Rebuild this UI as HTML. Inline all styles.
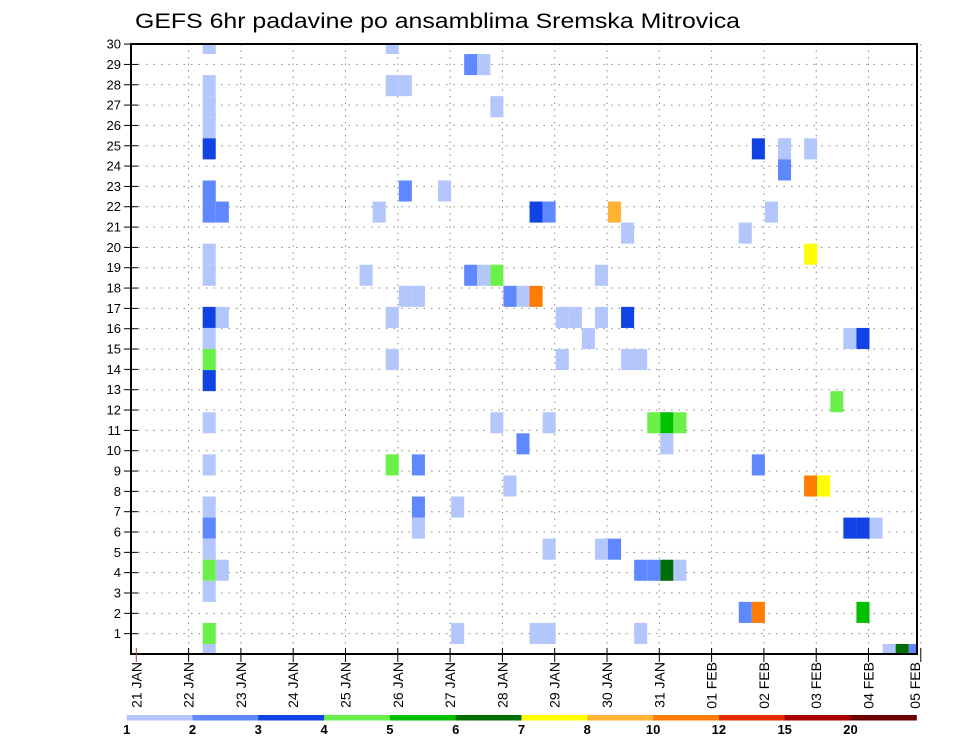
<!DOCTYPE html>
<html><head><meta charset="utf-8"><style>
html,body{margin:0;padding:0;background:#fff;}
svg{display:block;font-family:"Liberation Sans",sans-serif;}
</style></head><body>
<svg id="chart" width="960" height="742" viewBox="0 0 960 742">
<text x="135" y="28" font-size="21" textLength="605" lengthAdjust="spacingAndGlyphs">GEFS 6hr padavine po ansamblima Sremska Mitrovica</text>
<defs><clipPath id="plotclip"><rect x="131" y="44" width="786" height="610"/></clipPath></defs>
<g id="grid"></g>
<g id="cells" clip-path="url(#plotclip)"></g>
<rect x="131" y="44" width="786" height="610" fill="none" stroke="#000" stroke-width="2"/>
<g id="axes"></g>
<g id="legend"></g>
</svg>
<script>
const dayLabels = ["21 JAN","22 JAN","23 JAN","24 JAN","25 JAN","26 JAN","27 JAN","28 JAN","29 JAN","30 JAN","31 JAN","01 FEB","02 FEB","03 FEB","04 FEB","05 FEB"];
const yTicks = [1,2,3,4,5,6,7,8,9,10,11,12,13,14,15,16,17,18,19,20,21,22,23,24,25,26,27,28,29,30];
const levelLabels = ["1","2","3","4","5","6","7","8","10","12","15","20"];
const levelColors = ["#b4c7fc","#5f88fe","#1142e3","#6bf04b","#00c000","#006e00","#ffff00","#ffb233","#ff7c00","#e62a00","#a80000","#6c0000"];
// cells: 6-hour step index (from 21 JAN 00Z), ensemble row index, precipitation value (mm)
const cellStep = [5,19, 25,26, 5,19,20,49, 5,27, 5, 5,47,49,51, 49, 5,20,23, 5,6,18,30,31,36,48, 37,46, 5,51, 5,17,25,26,27,35, 20,21,28,29,30, 5,6,19,32,33,35,37, 5,34,54,55, 5,19,32,37,38, 5, 53, 5,27,31,39,40,41, 29,40, 5,19,21,47, 28,51,52, 5,21,24, 5,21,54,55,56, 5,31,35,36, 5,6,38,39,40,41, 5, 46,47,55, 5,24,30,31,38, 5,57,58,59];
const cellRow  = [29,29, 28,28, 27,27,27,24, 26,26, 25, 24,24,24,24, 23, 22,22,22, 21,21,21,21,21,21,21, 20,20, 19,19, 18,18,18,18,18,18, 17,17,17,17,17, 16,16,16,16,16,16,16, 15,15,15,15, 14,14,14,14,14, 13, 12, 11,11,11,11,11,11, 10,10, 9,9,9,9, 8,8,8, 7,7,7, 6,6,6,6,6, 5,5,5,5, 4,4,4,4,4,4, 3, 2,2,2, 1,1,1,1,1, 0,0,0,0];
const cellVal  = [1.5,1.5, 2.5,1.5, 1.5,1.5,1.5,1.5, 1.5,1.5, 1.5, 3.5,3.5,1.5,1.5, 2.5, 2.5,2.5,1.5, 2.5,2.5,1.5,3.5,2.5,9,1.5, 1.5,1.5, 1.5,7.5, 1.5,1.5,2.5,1.5,4.5,1.5, 1.5,1.5,2.5,1.5,11, 3.5,1.5,1.5,1.5,1.5,1.5,3.5, 1.5,1.5,1.5,3.5, 4.5,1.5,1.5,1.5,1.5, 3.5, 4.5, 1.5,1.5,1.5,4.5,5.5,4.5, 2.5,1.5, 1.5,4.5,2.5,2.5, 1.5,11,7.5, 1.5,2.5,1.5, 2.5,1.5,3.5,3.5,1.5, 1.5,1.5,1.5,2.5, 4.5,1.5,2.5,2.5,6.5,1.5, 1.5, 2.5,11,5.5, 4.5,1.5,1.5,1.5,1.5, 1.5,1.5,6.5,2.5];
const levelBounds = [1,2,3,4,5,6,7,8,10,12,15,20];

const NS="http://www.w3.org/2000/svg";
function mk(tag,attrs,parent){const e=document.createElementNS(NS,tag);for(const k in attrs)e.setAttribute(k,attrs[k]);parent.appendChild(e);return e;}
const X0=136.3, DAY=52.3;
function xDay(d){return X0+DAY*d;}
function xStep(s){return X0+1+DAY*s/4;}
function yTick(v){return 654-20.33*v;}
function rowTop(i){return 644-21.07*i;}
const ROWH=21.07;
function colorFor(v){let c=0;for(let i=0;i<levelBounds.length;i++){if(v>=levelBounds[i])c=i;}return levelColors[c];}

const grid=document.getElementById('grid');
yTicks.forEach(v=>{const l=mk('line',{x1:131,x2:917,y1:yTick(v),y2:yTick(v),stroke:'#888','stroke-width':1,'stroke-dasharray':'1.5,6'},grid);

});
dayLabels.forEach((d,i)=>{if(i===0)return;const l=mk('line',{x1:xDay(i),x2:xDay(i),y1:44,y2:654,stroke:'#888','stroke-width':1,'stroke-dasharray':'1.5,5'},grid);

});

const cells=document.getElementById('cells');
for(let i=0;i<cellStep.length;i++){
  const r=mk('rect',{x:xStep(cellStep[i]),y:rowTop(cellRow[i]),width:DAY/4,height:ROWH,fill:colorFor(cellVal[i])},cells);
  
  
}

const axes=document.getElementById('axes');
yTicks.forEach(v=>{
  const t=mk('line',{x1:124,x2:138,y1:yTick(v),y2:yTick(v),stroke:'#000','stroke-width':1},axes);
  
  
  const tx=mk('text',{x:121,y:yTick(v)+4.5,'font-size':13,'text-anchor':'end'},axes);
  tx.textContent=v;
  
  
});
dayLabels.forEach((d,i)=>{
  const x=xDay(i);
  const t=mk('line',{x1:x,x2:x,y1:648,y2:662,stroke:i===0?'#c04040':'#000','stroke-width':1},axes);
  
  
  const lx=i===dayLabels.length-1?x-6:x;
  const tx=mk('text',{x:0,y:0,'font-size':14,'text-anchor':'end',transform:`translate(${lx+5},662) rotate(-90)`},axes);
  tx.textContent=d;
  
  
});

const legend=document.getElementById('legend');
const LX0=126.7, LW=65.8;
levelColors.forEach((c,i)=>{
  const r=mk('rect',{x:LX0+LW*i,y:715,width:LW+0.5,height:5.5,fill:c},legend);
  
  
});
levelLabels.forEach((l,i)=>{
  const tx=mk('text',{x:LX0+LW*i,y:734,'font-size':13,'font-weight':'bold','text-anchor':'middle'},legend);
  tx.textContent=l;
  
  
});
</script>
</body></html>
